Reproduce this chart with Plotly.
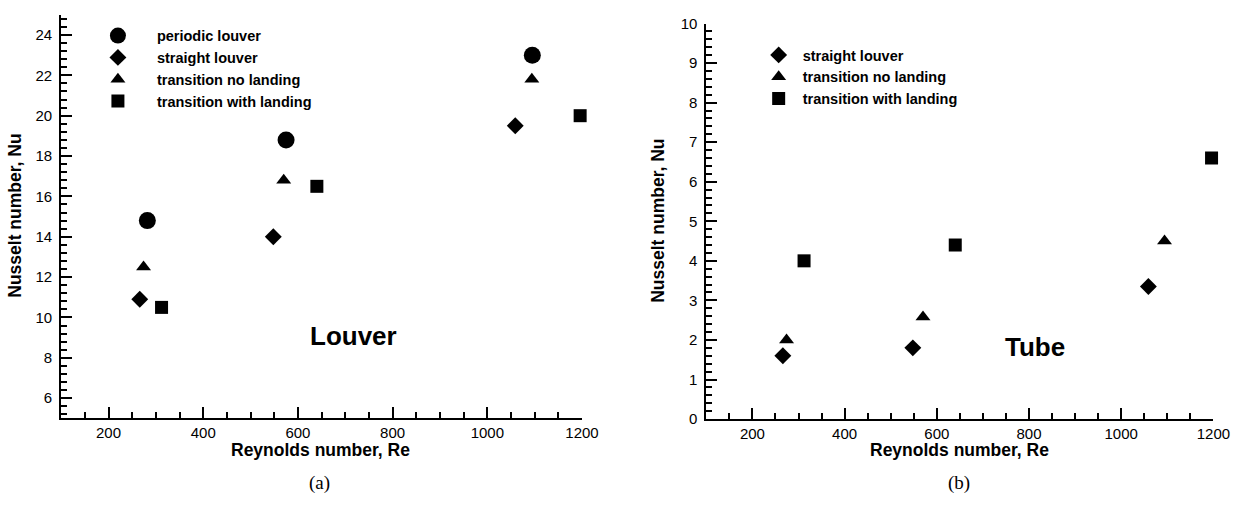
import plotly.graph_objects as go

# ---------------- data ----------------
re_periodic = [282, 575, 1095]
re_straight = [266, 548, 1059]
re_noland = [274, 570, 1094]
re_land = [312, 640, 1196]

nu_louver_periodic = [14.8, 18.8, 23.0]
nu_louver_straight = [10.9, 14.0, 19.5]
nu_louver_noland = [12.5, 16.8, 21.8]
nu_louver_land = [10.5, 16.5, 20.0]

nu_tube_straight = [1.6, 1.8, 3.35]
nu_tube_noland = [2.0, 2.58, 4.5]
nu_tube_land = [4.0, 4.4, 6.6]

names = ["periodic louver", "straight louver", "transition no landing", "transition with landing"]
symbols = ["circle", "diamond", "triangle-up", "square"]
sizes = [17, 13, 13, 13]

W, H = 1259, 517
FONT = "Liberation Sans, Arial, sans-serif"

fig = go.Figure()

left_sets = [(re_periodic, nu_louver_periodic), (re_straight, nu_louver_straight),
             (re_noland, nu_louver_noland), (re_land, nu_louver_land)]
for i, (xs, ys) in enumerate(left_sets):
    fig.add_trace(go.Scatter(x=xs, y=ys, mode="markers", name=names[i], cliponaxis=False,
                             marker=dict(symbol=symbols[i], size=sizes[i], color="black"),
                             xaxis="x", yaxis="y", legend="legend"))

right_sets = [(re_straight, nu_tube_straight), (re_noland, nu_tube_noland), (re_land, nu_tube_land)]
for j, (xs, ys) in enumerate(right_sets):
    i = j + 1
    fig.add_trace(go.Scatter(x=xs, y=ys, mode="markers", name=names[i], cliponaxis=False,
                             marker=dict(symbol=symbols[i], size=sizes[i], color="black"),
                             xaxis="x2", yaxis="y2", legend="legend2"))

def px_x(p):
    return p / W

def px_y(p):
    return 1 - p / H

def xax(domain, anchor):
    return dict(domain=domain, anchor=anchor, range=[100, 1200], tick0=0, dtick=200,
                ticks="inside", ticklen=11, tickwidth=2, tickcolor="black",
                showline=True, linewidth=2, linecolor="black", mirror=False,
                showgrid=False, zeroline=False,
                tickfont=dict(family=FONT, size=15, color="black"),
                minor=dict(ticks="inside", ticklen=6, tickwidth=1.5, tickcolor="black",
                           dtick=50, tick0=0, showgrid=False))

def yax(domain, anchor, rng, dt, mdt):
    return dict(domain=domain, anchor=anchor, range=rng, tick0=0, dtick=dt,
                ticks="inside", ticklen=11, tickwidth=2, tickcolor="black",
                showline=True, linewidth=2, linecolor="black", mirror=False,
                showgrid=False, zeroline=False, ticklabelstandoff=4,
                tickfont=dict(family=FONT, size=15, color="black"),
                minor=dict(ticks="inside", ticklen=6, tickwidth=1.5, tickcolor="black",
                           dtick=mdt, tick0=0, showgrid=False))

legfont = dict(family=FONT, size=14.5, color="black", weight="bold")

fig.update_layout(
    width=W, height=H,
    margin=dict(l=0, r=0, t=0, b=0),
    paper_bgcolor="white", plot_bgcolor="white",
    xaxis=xax([px_x(62), px_x(590)], "y"),
    yaxis=yax([px_y(423.3), px_y(6)], "x", [5, 25], 2, 0.4),
    xaxis2=xax([px_x(716), px_x(1230)], "y2"),
    yaxis2=yax([px_y(424), px_y(15)], "x2", [0, 10], 1, 0.2),
    legend=dict(x=px_x(80), y=px_y(11), xanchor="left", yanchor="top",
                bgcolor="rgba(0,0,0,0)", borderwidth=0, font=legfont, itemwidth=68),
    legend2=dict(x=px_x(765), y=px_y(31), xanchor="left", yanchor="top",
                 bgcolor="rgba(0,0,0,0)", borderwidth=0, font=legfont, itemwidth=38),
)

title_font = dict(family=FONT, size=17.5, color="black", weight="bold")
big_font = dict(family=FONT, size=26, color="black", weight="bold")
cap_font = dict(family="Liberation Serif, Times New Roman, serif", size=19, color="black")

annots = [
    dict(text="Reynolds number, Re", x=px_x(325), y=px_y(456), font=title_font),
    dict(text="Reynolds number, Re", x=px_x(973), y=px_y(456), font=title_font),
    dict(text="Nusselt number, Nu", x=px_x(15), y=px_y(214), font=title_font, textangle=-90),
    dict(text="Nusselt number, Nu", x=px_x(667), y=px_y(219), font=title_font, textangle=-90),
    dict(text="Louver", x=px_x(358), y=px_y(338), font=big_font),
    dict(text="Tube", x=px_x(1049), y=px_y(350), font=big_font),
    dict(text="(a)", x=px_x(324), y=px_y(490), font=cap_font),
    dict(text="(b)", x=px_x(972), y=px_y(490), font=cap_font),
]
for a in annots:
    a.update(xref="paper", yref="paper", showarrow=False, xanchor="center", yanchor="middle")
    fig.add_annotation(**a)

fig.write_html("out.html",
               config={"displayModeBar": False},
               post_script="document.body.style.margin='0';document.body.style.overflow='hidden';")
